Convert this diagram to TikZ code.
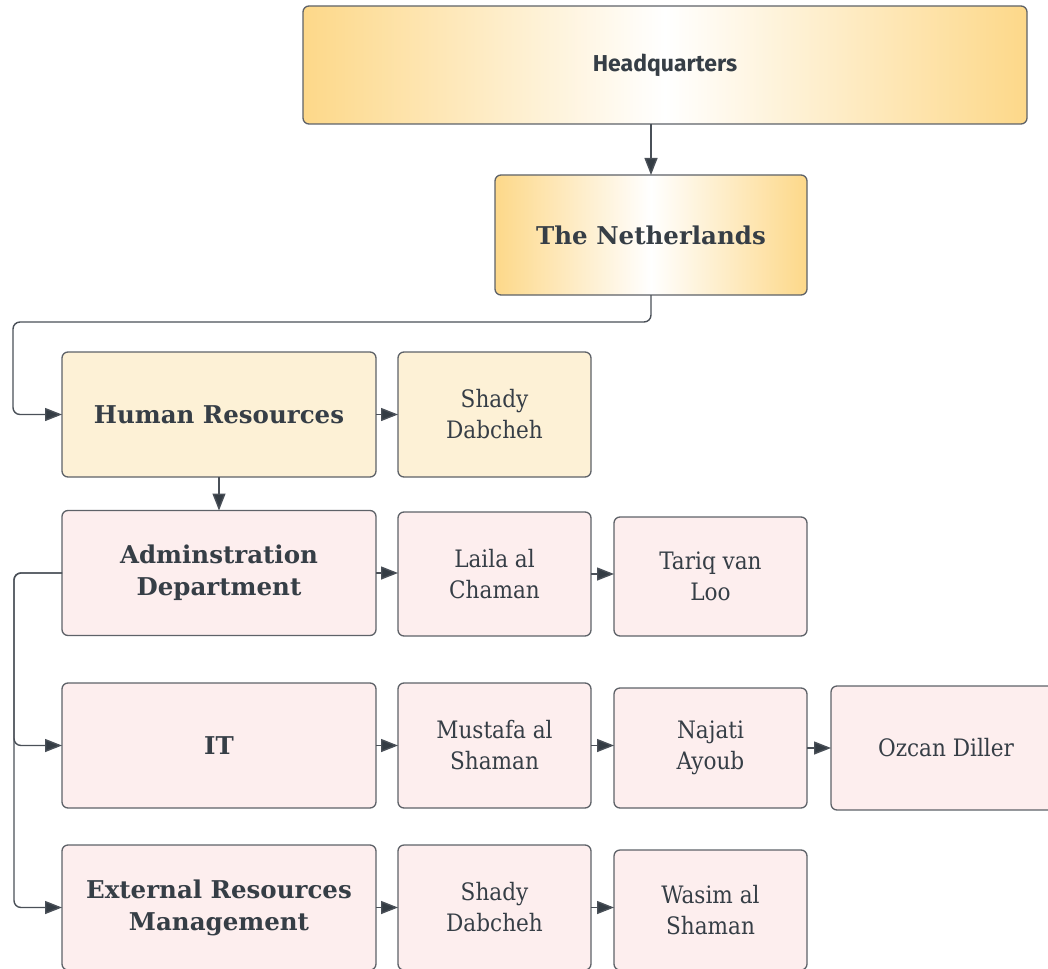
\documentclass[tikz,border=0pt]{standalone}
\usepackage{fontspec}
\usetikzlibrary{arrows.meta,positioning}
\newfontfamily\slabfont{DejaVu Serif}
\newfontfamily\slabnarrow{DejaVu Serif Condensed}
\newfontfamily\hqfont{Fira Sans}
\definecolor{inkc}{HTML}{363E46}
\definecolor{edgec}{HTML}{5E6268}
\definecolor{linkc}{HTML}{4A5058}
\definecolor{tipc}{HTML}{343C44}
\definecolor{goldc}{HTML}{FDD889}
\definecolor{creamc}{HTML}{FDF1D6}
\definecolor{blushc}{HTML}{FDEEEE}
\tikzset{
  box/.style={draw=edgec, line width=1.3pt, rounded corners=6pt, inner sep=2pt,
    outer sep=0pt, text=inkc, align=center},
  dept/.style={box, minimum width=314pt, minimum height=125pt,
    font=\slabfont\bfseries\fontsize{24.5}{32}\selectfont},
  person/.style={box, minimum width=193pt, minimum height=124pt,
    font=\slabnarrow\fontsize{24}{31}\selectfont},
  goldbox/.style={box, left color=goldc, right color=goldc, middle color=white},
  cream/.style={fill=creamc},
  blush/.style={fill=blushc},
  link/.style={draw=linkc, line width=1.4pt, rounded corners=7pt,
    -{Triangle[length=17pt,width=13pt,fill=tipc]}},
}
\begin{document}
\begin{tikzpicture}[x=1pt,y=-1pt]
\useasboundingbox (0,0) rectangle (1048,968);

% top of the hierarchy
\node[goldbox, minimum width=724pt, minimum height=118pt,
  font=\hqfont\bfseries\fontsize{23}{27}\selectfont] (hq) at (665,65) {Headquarters};
\node[goldbox, minimum width=312pt, minimum height=120pt,
  font=\slabfont\bfseries\fontsize{24.5}{32}\selectfont] (nl) at (651,235) {The Netherlands};

% departments
\node[dept, cream] (hr)  at (219,414.5) {Human Resources};
\node[dept, blush] (adm) at (219,573)   {Adminstration\\Department};
\node[dept, blush] (it)  at (219,745.5) {IT};
\node[dept, blush] (ext) at (219,907.5) {External Resources\\Management};

% staff
\node[person, cream, minimum height=125pt] (hr1) at (494.5,414.5) {Shady\\Dabcheh};
\node[person, blush] (adm1) at (494.5,574)   {Laila al\\Chaman};
\node[person, blush, minimum height=119pt] (adm2) at (710.5,576.5) {Tariq van\\Loo};
\node[person, blush, minimum height=125pt] (it1)  at (494.5,745.5) {Mustafa al\\Shaman};
\node[person, blush, minimum height=120pt] (it2)  at (710.5,748)   {Najati\\Ayoub};
\node[person, blush, minimum width=230pt] (it3)  at (946,748) {Ozcan Diller};
\node[person, blush, minimum height=125pt] (ext1) at (494.5,907.5) {Shady\\Dabcheh};
\node[person, blush, minimum height=120pt] (ext2) at (710.5,910)   {Wasim al\\Shaman};

% connectors
\draw[link] (nl.north |- hq.south) -- (nl.north);
\draw[link] (nl.south) -- ++(0,27) -| (13,380) |- (hr.west);
\draw[link] (hr.south) -- (adm.north);
\draw[link] (adm.west) -- ++(-48,0) |- (it.west);
\draw[link] (adm.west) -- ++(-48,0) |- (ext.west);

\draw[link] (hr.east)   -- (hr.east -| hr1.west);
\draw[link] (adm.east)  -- (adm.east -| adm1.west);
\draw[link] (adm1.east) -- (adm1.east -| adm2.west);
\draw[link] (it.east)   -- (it.east -| it1.west);
\draw[link] (it1.east)  -- (it1.east -| it2.west);
\draw[link] (it2.east)  -- (it2.east -| it3.west);
\draw[link] (ext.east)  -- (ext.east -| ext1.west);
\draw[link] (ext1.east) -- (ext1.east -| ext2.west);
\end{tikzpicture}
\end{document}
